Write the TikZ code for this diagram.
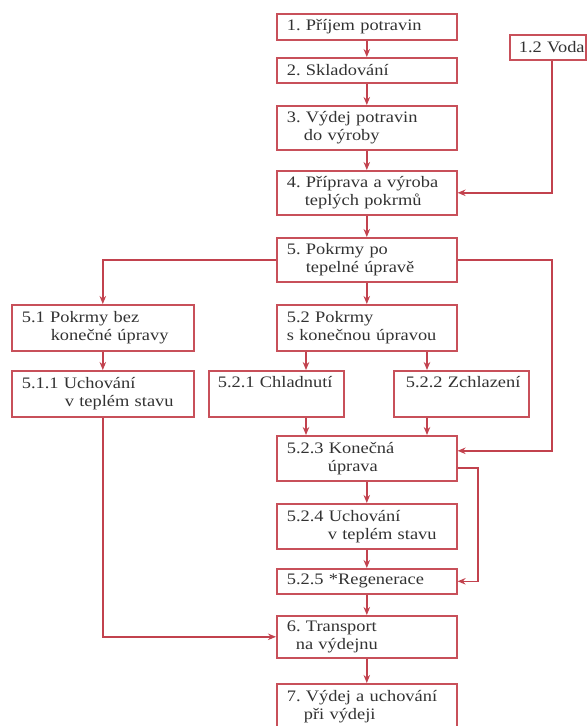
\documentclass[tikz,border=0pt]{standalone}
\usepackage{fontspec}
\setmainfont[FakeStretch=1.15]{Liberation Serif}
\usetikzlibrary{arrows.meta,calc}
\definecolor{boxred}{RGB}{200,80,90}
\definecolor{arrred}{RGB}{194,66,78}
\definecolor{txt}{RGB}{50,50,50}
\frenchspacing
\hyphenpenalty=10000
\begin{document}
\begin{tikzpicture}[x=1pt,y=-1pt,
  box/.style={draw=boxred, line width=1.6pt, anchor=north west, inner xsep=10pt, inner ysep=0pt,
    align=left, text=txt, font=\fontsize{16}{18}\selectfont},
  main/.style={box, minimum width=180pt, text width=160pt},
  conn/.style={draw=arrred, line width=1.5pt},
  arr/.style={conn, -{Stealth[length=8pt,width=6.5pt]}}]
\useasboundingbox (0,0) rectangle (587,726);
\clip (0,0) rectangle (587,726);
% boxes
\node[main, minimum height=26pt] (b1) at (276,13) {1. Příjem potravin};
\node[main, minimum height=25pt] (b2) at (276,57) {2. Skladování};
\node[main, minimum height=44pt] (b3) at (276,105) {3. Výdej potravin\\\hspace*{17pt}do výroby};
\node[main, minimum height=44pt] (b4) at (276,170) {4. Příprava a výroba\\\hspace*{18pt}teplých pokrmů};
\node[box, inner xsep=0pt, minimum width=76pt, text width=76pt, minimum height=25pt] (voda) at (509,34) {\hspace*{9pt}1.2 Voda};
\node[main, minimum height=44pt] (b5) at (276,237) {5. Pokrmy po\\\hspace*{19pt}tepelné úpravě};
\node[box, minimum width=182pt, text width=162pt, minimum height=46pt] (b51) at (11,304) {5.1 Pokrmy bez\\\hspace*{29pt}konečné úpravy};
\node[main, minimum height=46pt] (b52) at (276,304) {5.2 Pokrmy\\s konečnou úpravou};
\node[box, minimum width=182pt, text width=162pt, minimum height=46pt] (b511) at (11,370) {5.1.1 Uchování\\\hspace*{43pt}v teplém stavu};
\node[box, inner xsep=0pt, minimum width=135pt, text width=135pt, minimum height=46pt] (b521) at (208,370) {\hspace*{9pt}5.2.1 Chladnutí\\\strut};
\node[box, inner xsep=0pt, minimum width=135pt, text width=135pt, minimum height=46pt] (b522) at (393,370) {\hspace*{12pt}5.2.2 Zchlazení\\\strut};
\node[main, minimum height=45pt] (b523) at (276,435) {5.2.3 Konečná\\\hspace*{41pt}úprava};
\node[main, minimum height=45pt] (b524) at (276,503) {5.2.4 Uchování\\\hspace*{41pt}v teplém stavu};
\node[main, minimum height=25pt] (b525) at (276,568) {5.2.5 *Regenerace};
\node[main, minimum height=42pt] (b6) at (276,615) {6. Transport\\\hspace*{9pt}na výdejnu};
\node[main, minimum height=46pt] (b7) at (276,683) {7. Výdej a uchování\\\hspace*{17pt}při výdeji};
% helper coordinates
\coordinate (vx) at (552,0);
\coordinate (lx) at (478,0);
\coordinate (ax) at (306,0);
\coordinate (bx) at (427,0);
\coordinate (in523) at ($(b523.east)+(0,-7.5)$);
\coordinate (out523) at ($(b523.east)+(0,9.5)$);
% main vertical arrows
\draw[arr] (b1.south) -- (b2.north);
\draw[arr] (b2.south) -- (b3.north);
\draw[arr] (b3.south) -- (b4.north);
\draw[arr] (b4.south) -- (b5.north);
\draw[arr] (b5.south) -- (b52.north);
\draw[arr] (b51.south) -- (b511.north);
\draw[arr] (ax |- b52.south) -- (ax |- b521.north);
\draw[arr] (bx |- b52.south) -- (bx |- b522.north);
\draw[arr] (ax |- b521.south) -- (ax |- b523.north);
\draw[arr] (bx |- b522.south) -- (bx |- b523.north);
\draw[arr] (b523.south) -- (b524.north);
\draw[arr] (b524.south) -- (b525.north);
\draw[arr] (b525.south) -- (b6.north);
\draw[arr] (b6.south) -- (b7.north);
% side connectors
\draw[arr] (vx |- voda.south) |- (b4.east);
\draw[arr] (b5.west) -| (b51.north);
\draw[arr] (b5.east) -| (vx |- in523) -- (in523);
\draw[arr] (out523) -| (lx |- b525.east) -- (b525.east);
\draw[arr] (b511.south) |- (b6.west);
\end{tikzpicture}
\end{document}
